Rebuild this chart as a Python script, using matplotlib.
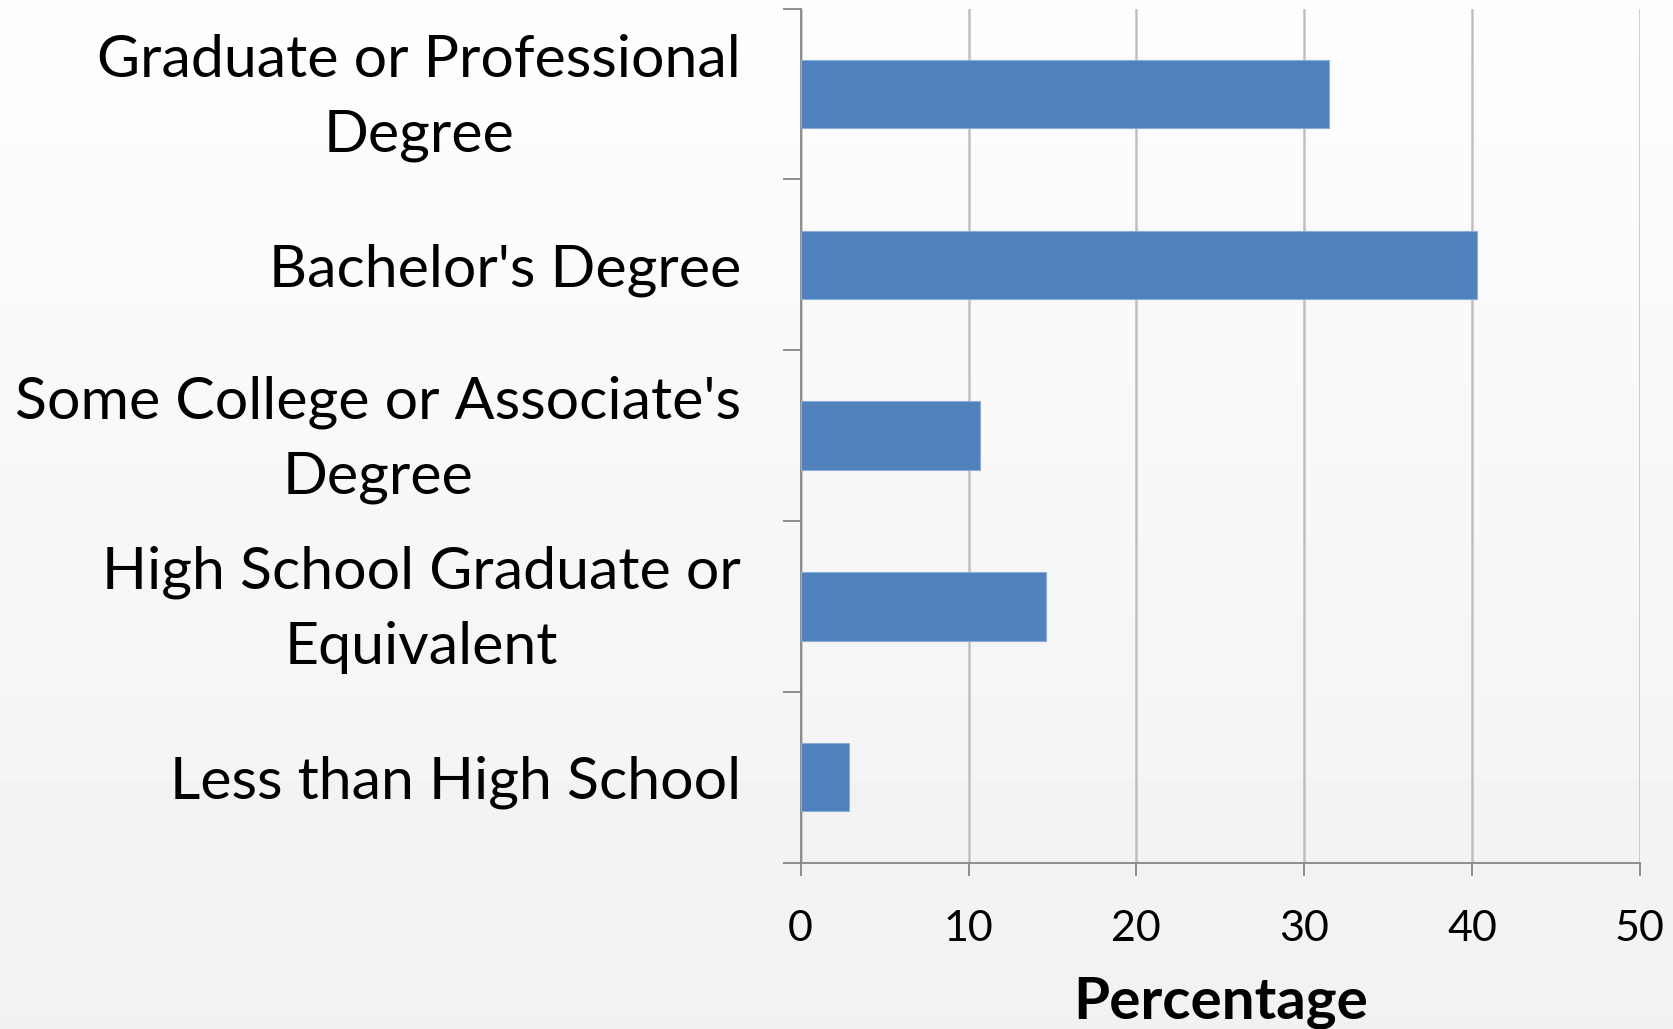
import numpy as np
import matplotlib.pyplot as plt
import matplotlib.transforms as mtransforms

# Educational attainment shares (%), listed top to bottom
categories = [
    "Graduate or Professional\nDegree",
    "Bachelor's Degree",
    "Some College or Associate's\nDegree",
    "High School Graduate or\nEquivalent",
    "Less than High School",
]
percentages = [31.5, 40.3, 10.7, 14.6, 2.9]
x_ticks = [0, 10, 20, 30, 40, 50]

plt.rcParams["font.family"] = ["Lato", "DejaVu Sans"]

fig = plt.figure(figsize=(16.74, 10.29), dpi=100)

# Soft backdrop: near white at the top fading to light gray at the bottom
bg = fig.add_axes([0, 0, 1, 1], zorder=-10)
grad = np.linspace(0.995, 0.945, 256).reshape(-1, 1)
bg.imshow(grad, aspect="auto", cmap="gray", vmin=0, vmax=1, extent=[0, 1, 0, 1])
bg.axis("off")

ax = fig.add_axes([0.4783, 0.1617, 0.5013, 0.8300])
ax.set_facecolor("none")

y = np.arange(len(categories))[::-1]
ax.barh(y, percentages, height=0.4, color="#4f81bd",
        edgecolor="#8badd6", linewidth=0.8, zorder=3)

ax.set_xlim(0, 50)
ax.set_ylim(-0.5, len(categories) - 0.5)
ax.set_xticks(x_ticks)
ax.set_xticklabels([str(t) for t in x_ticks])

# Category labels at bar centres, tick marks at the category boundaries
ax.set_yticks(y)
ax.set_yticklabels(categories)
ax.set_yticks(np.arange(-0.5, len(categories), 1.0), minor=True)
ax.tick_params(axis="y", which="major", length=0, pad=43, labelsize=42.5)
ax.tick_params(axis="y", which="minor", length=13, width=1.3, color="#868686")
ax.tick_params(axis="x", which="major", length=9, width=1.3, color="#868686",
               labelsize=31, pad=25)

# two-line labels sit a little higher than their bar centre
lift = mtransforms.ScaledTranslation(0, 9 / 72, fig.dpi_scale_trans)
for lab in ax.get_yticklabels():
    lab.set_multialignment("center")
    lab.set_linespacing(1.5)
    if "\n" in lab.get_text():
        lab.set_transform(lab.get_transform() + lift)

ax.grid(axis="x", color="#c0c0c0", linewidth=1.8, zorder=0)
ax.set_axisbelow(True)

for side in ["top", "right"]:
    ax.spines[side].set_visible(False)
for side in ["left", "bottom"]:
    ax.spines[side].set_color("#868686")
    ax.spines[side].set_linewidth(1.3)

ax.set_xlabel("Percentage", fontsize=42, fontweight="bold", labelpad=20)

fig.savefig("out.png", dpi=100)
